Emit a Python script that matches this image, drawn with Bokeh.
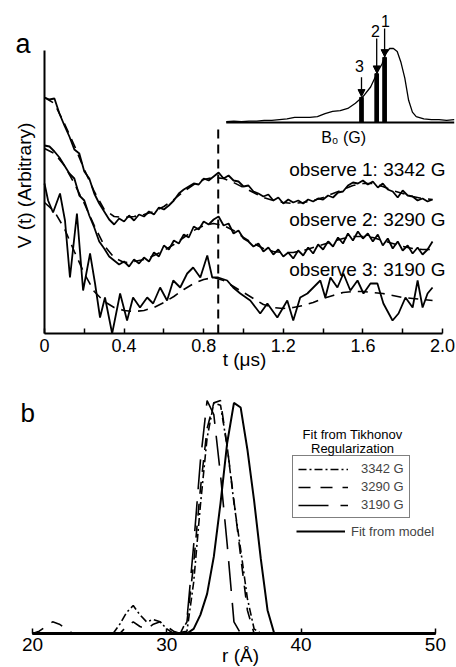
import math
from bokeh.plotting import figure
from bokeh.models import (Range1d, FixedTicker, CustomJSTickFormatter, Label, Arrow,
                          NormalHead, Legend, LegendItem)
from bokeh.layouts import column
from bokeh.embed import file_html
from bokeh.resources import INLINE

FONT = "Liberation Sans"

# ---------------- Panel a : time-domain traces ----------------
t_grid = [0, 0.025, 0.05, 0.075, 0.1, 0.125, 0.15, 0.175, 0.2, 0.225, 0.25, 0.275, 0.3, 0.325,
          0.35, 0.375, 0.4, 0.425, 0.45, 0.475, 0.5, 0.525, 0.55, 0.575, 0.6, 0.625, 0.65, 0.675,
          0.7, 0.725, 0.75, 0.775, 0.8, 0.825, 0.85, 0.875, 0.9, 0.925, 0.95, 0.975, 1.0, 1.025,
          1.05, 1.075, 1.1, 1.125, 1.15, 1.175, 1.2, 1.225, 1.25, 1.275, 1.3, 1.325, 1.35, 1.375,
          1.4, 1.425, 1.45, 1.475, 1.5, 1.525, 1.55, 1.575, 1.6, 1.625, 1.65, 1.675, 1.7, 1.725,
          1.75, 1.775, 1.8, 1.825, 1.85, 1.875, 1.9, 1.925, 1.95]
obs1 = [2.36, 2.34, 2.35, 2.20, 2.08, 1.97, 1.84, 1.80, 1.62, 1.55, 1.40, 1.30, 1.22, 1.14,
        1.09, 1.15, 1.12, 1.18, 1.13, 1.19, 1.17, 1.22, 1.19, 1.26, 1.24, 1.28, 1.33, 1.40,
        1.44, 1.47, 1.50, 1.49, 1.55, 1.53, 1.57, 1.61, 1.55, 1.58, 1.53, 1.52, 1.47, 1.48,
        1.42, 1.40, 1.37, 1.39, 1.33, 1.36, 1.30, 1.34, 1.31, 1.33, 1.30, 1.34, 1.32, 1.35,
        1.34, 1.38, 1.36, 1.41, 1.42, 1.48, 1.51, 1.50, 1.53, 1.49, 1.52, 1.46, 1.50, 1.44,
        1.42, 1.36, 1.43, 1.38, 1.37, 1.33, 1.35, 1.32, 1.34]
obs2 = [1.88, 1.87, 1.82, 1.76, 1.68, 1.60, 1.55, 1.38, 1.33, 1.18, 1.06, 0.92, 0.85, 0.77,
        0.73, 0.69, 0.72, 0.67, 0.74, 0.70, 0.76, 0.72, 0.81, 0.77, 0.88, 0.84, 0.93, 0.90,
        0.99, 0.96, 1.07, 1.04, 1.12, 1.09, 1.14, 1.17, 1.08, 1.10, 1.00, 1.03, 0.95, 0.92,
        0.87, 0.90, 0.82, 0.86, 0.79, 0.84, 0.77, 0.81, 0.75, 0.83, 0.78, 0.86, 0.80, 0.89,
        0.84, 0.92, 0.87, 0.96, 0.90, 1.00, 0.93, 1.02, 0.95, 1.00, 0.92, 0.99, 0.88, 0.95,
        0.85, 0.92, 0.83, 0.88, 0.80, 0.86, 0.79, 0.84, 0.92]
t_obs3 = [0.0, 0.018, 0.043, 0.078, 0.103, 0.128, 0.163, 0.194, 0.229, 0.254, 0.279, 0.304,
          0.34, 0.38, 0.415, 0.445, 0.48, 0.516, 0.546, 0.581, 0.616, 0.647, 0.682, 0.717,
          0.747, 0.783, 0.818, 0.843, 0.873, 0.918, 0.948, 0.984, 1.034, 1.084, 1.12, 1.17,
          1.22, 1.25, 1.285, 1.321, 1.351, 1.386, 1.411, 1.437, 1.472, 1.502, 1.537, 1.573,
          1.603, 1.638, 1.673, 1.703, 1.749, 1.779, 1.814, 1.85, 1.875, 1.9, 1.925, 1.95]
obs3 = [1.50, 1.33, 1.21, 1.40, 1.13, 0.56, 1.20, 0.43, 0.80, 0.50, 0.16, 0.36, 0.00, 0.40,
        0.13, 0.36, 0.26, 0.36, 0.30, 0.46, 0.33, 0.53, 0.46, 0.60, 0.66, 0.56, 0.78, 0.56,
        0.56, 0.53, 0.46, 0.40, 0.33, 0.20, 0.30, 0.16, 0.33, 0.13, 0.36, 0.40, 0.46, 0.53,
        0.36, 0.56, 0.46, 0.60, 0.43, 0.53, 0.40, 0.50, 0.50, 0.30, 0.13, 0.20, 0.36, 0.26,
        0.53, 0.26, 0.40, 0.46]
t_fit = [0, 0.05, 0.1, 0.15, 0.2, 0.25, 0.3, 0.35, 0.4, 0.45, 0.5, 0.55, 0.6, 0.65, 0.7, 0.75,
         0.8, 0.85, 0.9, 0.95, 1.0, 1.05, 1.1, 1.15, 1.2, 1.25, 1.3, 1.35, 1.4, 1.45, 1.5, 1.55,
         1.6, 1.65, 1.7, 1.75, 1.8, 1.85, 1.9, 1.95]
fit1 = [2.36, 2.30, 2.10, 1.88, 1.64, 1.42, 1.24, 1.17, 1.16, 1.17, 1.19, 1.22, 1.27, 1.34,
        1.42, 1.49, 1.54, 1.56, 1.55, 1.51, 1.46, 1.41, 1.36, 1.33, 1.31, 1.30, 1.31, 1.33,
        1.36, 1.40, 1.44, 1.48, 1.50, 1.50, 1.47, 1.43, 1.40, 1.37, 1.35, 1.34]
fit2 = [1.85, 1.80, 1.68, 1.50, 1.30, 1.08, 0.88, 0.76, 0.71, 0.72, 0.74, 0.78, 0.83, 0.89,
        0.96, 1.03, 1.08, 1.10, 1.08, 1.03, 0.96, 0.90, 0.85, 0.82, 0.81, 0.81, 0.83, 0.86,
        0.89, 0.92, 0.95, 0.97, 0.97, 0.96, 0.93, 0.90, 0.87, 0.85, 0.84, 0.84]
fit3 = [1.31, 1.22, 1.05, 0.82, 0.60, 0.42, 0.32, 0.26, 0.23, 0.22, 0.23, 0.26, 0.31, 0.37,
        0.44, 0.50, 0.54, 0.56, 0.53, 0.47, 0.41, 0.35, 0.29, 0.26, 0.25, 0.26, 0.28, 0.31,
        0.35, 0.38, 0.41, 0.42, 0.42, 0.41, 0.40, 0.38, 0.36, 0.35, 0.34, 0.33]
t_mark = 0.873
t_mark_top = 2.10
obs_texts = ["observe 1: 3342 G", "observe 2: 3290 G", "observe 3: 3190 G"]

# inset: field-swept spectrum
b_field = [2300, 2350, 2400, 2450, 2500, 2550, 2600, 2650, 2700, 2750, 2800, 2850, 2900, 2950,
           3000, 3050, 3100, 3150, 3200, 3250, 3300, 3325, 3350, 3375, 3400, 3425, 3450, 3475,
           3500, 3525, 3550, 3600, 3650, 3700, 3750, 3800]
b_signal = [0.01, 0.02, 0.01, 0.02, 0.02, 0.03, 0.03, 0.04, 0.05, 0.07, 0.07, 0.07, 0.08, 0.12,
            0.15, 0.16, 0.19, 0.26, 0.35, 0.48, 0.70, 0.79, 0.93, 1.00, 1.00, 0.96, 0.81, 0.60,
            0.30, 0.14, 0.08, 0.05, 0.04, 0.04, 0.03, 0.04]
obs_fields = [3342, 3290, 3190]
obs_field_signal = [0.88, 0.66, 0.34]
obs_ids = ["1", "2", "3"]

# ---------------- Panel b : distance distributions ----------------
r_3342 = [20, 26, 26.5, 27, 27.5, 28, 28.5, 29, 29.5, 30, 30.5, 31.5, 32, 32.5, 33, 33.5, 34,
          34.5, 35, 35.5, 36, 36.5, 37, 50]
p_3342 = [0, 0, 0.04, 0.09, 0.12, 0.08, 0.05, 0.06, 0.05, 0.02, 0, 0.01, 0.22, 0.55, 0.84,
          0.99, 0.98, 0.80, 0.56, 0.36, 0.15, 0.02, 0, 0]
r_3290 = [20, 20.5, 21, 21.5, 22, 22.5, 23, 26.5, 27, 27.5, 28, 28.5, 29, 29.5, 30, 30.5, 31,
          31.5, 32, 32.5, 33, 33.5, 34, 34.5, 35, 35.5, 36, 36.5, 50]
p_3290 = [0, 0.01, 0.03, 0.05, 0.04, 0.02, 0, 0, 0.03, 0.05, 0.03, 0.02, 0.04, 0.05, 0.03,
          0.01, 0, 0.05, 0.30, 0.62, 0.88, 0.99, 1.00, 0.80, 0.57, 0.33, 0.10, 0, 0]
r_3190 = [20, 31, 31.5, 32, 32.5, 33, 33.5, 34, 34.5, 35, 35.5, 50]
p_3190 = [0, 0, 0.06, 0.38, 0.74, 1.00, 0.94, 0.68, 0.38, 0.05, 0, 0]
r_model = [20, 31.5, 32, 32.5, 33, 33.5, 34, 34.5, 35, 35.5, 36, 36.5, 37, 37.5, 38, 50]
p_model = [0, 0, 0.02, 0.08, 0.17, 0.33, 0.56, 0.82, 0.99, 0.97, 0.79, 0.57, 0.32, 0.10, 0, 0]


def style(p):
    p.outline_line_color = None
    p.xgrid.visible = False
    p.ygrid.visible = False
    p.background_fill_color = "white"
    p.border_fill_color = "white"


def lab(p, x, y, text, size, align="left", baseline="middle", **kw):
    p.add_layout(Label(x=x, y=y, text=text, text_font=FONT, text_font_size=size,
                       text_align=align, text_baseline=baseline, text_color="black", **kw))


# ---------- figure a (frame = whole canvas, axes at fixed locations) ----------
pa = figure(width=456, height=372, x_range=Range1d(-0.2211, 2.0704), y_range=Range1d(-0.39, 3.33),
            output_backend="svg", toolbar_location=None, min_border=0,
            min_border_left=0, min_border_right=0, min_border_top=0, min_border_bottom=0)
style(pa)
pa.extra_x_ranges = {"B": Range1d(814.6, 3815.1)}
pa.extra_y_ranges = {"I": Range1d(-3.378, 1.6486)}

xa = pa.xaxis[0]
xa.fixed_location = 0
xa.ticker = FixedTicker(ticks=[0, 0.4, 0.8, 1.2, 1.6, 2.0], minor_ticks=[0.2, 0.6, 1.0, 1.4, 1.8])
xa.formatter = CustomJSTickFormatter(code="return tick == 0 ? '0' : tick.toFixed(1);")
xa.bounds = (0, 2.0)
xa.axis_line_width = 2
xa.major_tick_in = 5
xa.major_tick_out = 0
xa.minor_tick_in = 5
xa.minor_tick_out = 0
xa.major_tick_line_width = 1.5
xa.minor_tick_line_width = 1.5
xa.major_label_text_font = FONT
xa.major_label_text_font_size = "18px"
xa.major_label_text_color = "black"
xa.major_label_standoff = 5

ya = pa.yaxis[0]
ya.fixed_location = 0
ya.ticker = FixedTicker(ticks=[])
ya.bounds = (0, 2.83)
ya.axis_line_width = 2
ya.major_tick_in = 0
ya.major_tick_out = 0
ya.minor_tick_in = 0
ya.minor_tick_out = 0
ya.major_label_standoff = 0

for ts, vs in ((t_grid, obs1), (t_grid, obs2), (t_obs3, obs3)):
    pa.line(ts, vs, line_color="black", line_width=1.8)
for fs in (fit1, fit2, fit3):
    pa.line(t_fit, fs, line_color="black", line_width=1.6, line_dash="10 7")

pa.segment(x0=[t_mark], y0=[0], x1=[t_mark], y1=[t_mark_top], line_color="black",
           line_width=2, line_dash="9 6")

for txt, yv in zip(obs_texts, [1.636, 1.136, 0.636]):
    lab(pa, 2.015, yv, txt, "19px", align="right")

lab(pa, 1.005, -0.264, "t (\u03bcs)", "19px", align="center")
lab(pa, -0.1457, 2.895, "a", "27px")
lab(pa, -0.1005, 1.48, "V (t) (Arbitrary)", "19px", align="center", angle=math.pi / 2)

# inset
pa.line([min(b_field), max(b_field)], [0, 0], x_range_name="B", y_range_name="I",
        line_color="black", line_width=2)
pa.line(b_field, b_signal, x_range_name="B", y_range_name="I", line_color="black",
        line_width=1.3)
pa.vbar(x=obs_fields, top=obs_field_signal, bottom=0, width=24, x_range_name="B",
        y_range_name="I", fill_color="black", line_color="black")
arrow_start = [1.27, 1.135, 0.61]
id_pos = [(3348, 1.365), (3282, 1.23), (3177, 0.77)]
for f, top, st, idt, (lx, ly) in zip(obs_fields, obs_field_signal, arrow_start, obs_ids, id_pos):
    pa.add_layout(Arrow(x_start=f, y_start=st, x_end=f, y_end=top + 0.01,
                        x_range_name="B", y_range_name="I", line_width=1.3,
                        end=NormalHead(size=7, fill_color="black", line_color="black")))
    lab(pa, lx, ly, idt, "16px", align="center", x_range_name="B", y_range_name="I")
lab(pa, 3072, -0.208, "B\u2080 (G)", "16px", align="center",
    x_range_name="B", y_range_name="I")

# ---------- figure b ----------
pb = figure(width=456, height=295, x_range=Range1d(17.617, 51.57), y_range=Range1d(-0.1459, 1.1204),
            output_backend="svg", toolbar_location=None, min_border=0,
            min_border_left=0, min_border_right=0, min_border_top=0, min_border_bottom=0)
style(pb)
pb.yaxis.visible = False
xb = pb.xaxis[0]
xb.fixed_location = 0
xb.ticker = FixedTicker(ticks=[20, 30, 40, 50])
xb.bounds = (20, 50)
xb.axis_line_width = 3
xb.major_tick_in = 5
xb.major_tick_out = 0
xb.minor_tick_in = 0
xb.minor_tick_out = 0
xb.major_tick_line_width = 1.5
xb.major_label_text_font = FONT
xb.major_label_text_font_size = "19px"
xb.major_label_text_color = "black"
xb.major_label_standoff = 4

r42 = pb.line(r_3342, p_3342, line_color="black", line_width=1.6, line_dash="8 3 2 3")
r90 = pb.line(r_3290, p_3290, line_color="black", line_width=1.6, line_dash="12 10")
r19 = pb.line(r_3190, p_3190, line_color="black", line_width=1.6, line_dash="30 12")
rmo = pb.line(r_model, p_model, line_color="black", line_width=2)

leg1 = Legend(items=[LegendItem(label="3342 G", renderers=[r42]),
                     LegendItem(label="3290 G", renderers=[r90]),
                     LegendItem(label="3190 G", renderers=[r19])],
              location=(292, 149), margin=0, padding=5, spacing=3,
              glyph_width=50, glyph_height=14, label_height=14, label_width=42,
              label_standoff=13,
              label_text_font=FONT, label_text_font_size="13px",
              border_line_color="black", border_line_width=1.5, background_fill_alpha=0)
leg2 = Legend(items=[LegendItem(label="Fit from model", renderers=[rmo])],
              location=(296, 128), margin=0, padding=0, spacing=0,
              glyph_width=49, glyph_height=16, label_height=16, label_standoff=6,
              label_text_font=FONT, label_text_font_size="13px",
              border_line_alpha=0, background_fill_alpha=0)
pb.add_layout(leg1)
pb.add_layout(leg2)

lab(pb, 43.83, 0.856, "Fit from Tikhonov", "13px", align="center")
lab(pb, 43.83, 0.796, "Regularization", "13px", align="center")
lab(pb, 19.107, 0.945, "b", "26px")
lab(pb, 35.49, -0.096, "r (\u00c5)", "19px", align="center")

layout = column(pa, pb, spacing=0)
open("out.html", "w").write(file_html(layout, INLINE))
